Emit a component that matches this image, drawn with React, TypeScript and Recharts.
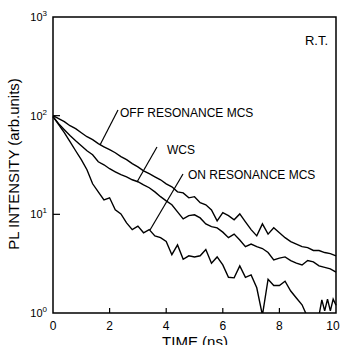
import { LineChart, Line, XAxis, YAxis, ReferenceArea } from "recharts";

// time axis (ns) shared by the OFF resonance and WCS traces
const times = [
    0, 0.2, 0.4, 0.6, 0.8, 1, 1.2, 1.4, 1.6, 1.8,
    2, 2.2, 2.4, 2.6, 2.8, 3, 3.2, 3.4, 3.6, 3.8,
    4, 4.2, 4.4, 4.6, 4.8, 5, 5.2, 5.4, 5.6, 5.8,
    6, 6.2, 6.4, 6.6, 6.8, 7, 7.2, 7.4, 7.6, 7.8,
    8, 8.2, 8.4, 8.6, 8.8, 9, 9.2, 9.4, 9.6, 9.8, 10,
];

const offResonance = [
    100, 93.2, 86.9, 79.1, 73.8, 67.2, 61.2, 57.1, 52.0, 48.4,
    45.2, 42.1, 38.4, 35.8, 32.6, 30.3, 27.6, 25.8, 24.0, 22.4,
    20.4, 19.0, 16.9, 16.5, 14.7, 15.1, 13.1, 12.5, 11.1, 8.6,
    10.4, 9.7, 8.8, 10.1, 8.4, 7.0, 6.05, 8.0, 6.3, 7.3,
    6.5, 5.8, 5.3, 5.0, 4.7, 4.6, 4.3, 4.3, 4.1, 4.0, 3.8,
];

const wcs = [
    97.7, 83.0, 72.0, 62.8, 55.6, 49.5, 44.1, 40.2, 34.1, 31.8,
    29.0, 27.0, 25.2, 24.0, 22.4, 21.4, 19.9, 18.6, 16.9, 15.1,
    13.7, 12.5, 10.6, 9.0, 9.7, 9.9, 9.2, 8.0, 7.5, 7.3,
    6.6, 5.8, 6.3, 5.5, 4.7, 5.0, 4.7, 4.5, 4.1, 3.45,
    3.6, 3.7, 3.4, 3.2, 3.07, 3.4, 3.3, 3.0, 2.9, 2.8, 2.6,
];

// the on resonance trace is noisier at the tail, so it gets its own times
const onTimes = [
    0, 0.2, 0.4, 0.6, 0.8, 1, 1.2, 1.4, 1.6, 1.8,
    2, 2.2, 2.4, 2.6, 2.8, 3, 3.2, 3.4, 3.6, 3.8,
    4, 4.2, 4.4, 4.6, 4.8, 5, 5.2, 5.4, 5.6, 5.8,
    6, 6.2, 6.4, 6.6, 6.8, 7, 7.2, 7.4, 7.6, 7.8,
    8, 8.2, 8.4, 8.6, 8.8, 9, 9.2, 9.4, 9.5, 9.6, 9.7, 9.8, 9.9, 10,
];

const onResonance = [
    97.7, 81, 67.2, 54.5, 44.1, 35.8, 28.3, 20.4, 16.9, 14.0,
    14.7, 11.1, 10.1, 8.2, 7.0, 7.6, 6.5, 7.0, 6.05, 5.8,
    5.3, 3.9, 4.9, 3.5, 3.8, 3.7, 3.8, 4.4, 3.2, 3.7,
    3.07, 2.3, 2.27, 3.0, 2.3, 2.43, 1.8, 0.95, 2.2, 1.9,
    1.9, 2.1, 1.67, 1.42, 1.21, 0.9, 0.9, 0.95, 1.36, 1.05, 1.38, 1.05, 1.38, 1.2,
];

const xTicks = [0, 2, 4, 6, 8, 10];
const yTicks = [1, 10, 100, 1000];
const yExponents = ["0", "1", "2", "3"];

const offData = times.map((t, i) => ({ t, v: offResonance[i] }));
const wcsData = times.map((t, i) => ({ t, v: wcs[i] }));
const onData = onTimes.map((t, i) => ({ t, v: onResonance[i] }));

function XTick(props: any) {
    const { x, y, payload } = props;
    const inner = payload.value !== 0 && payload.value !== 10;
    return (
        <g>
            {inner && (
                <line x1={x} x2={x} y1={y} y2={y - 5} stroke="#000" strokeWidth={1.2} />
            )}
            <text x={x} y={y + 17} textAnchor="middle" fontSize={12} fill="#000">
                {payload.value}
            </text>
        </g>
    );
}

function YTick(props: any) {
    const { x, y, payload, index } = props;
    const inner = payload.value === 10 || payload.value === 100;
    return (
        <g>
            {inner && (
                <line x1={x} x2={x + 7} y1={y} y2={y} stroke="#000" strokeWidth={1.2} />
            )}
            <text x={x - 6} y={y + 4} textAnchor="end" fontSize={11} fill="#000">
                10
                <tspan dy={-5} fontSize={8}>
                    {yExponents[index]}
                </tspan>
            </text>
        </g>
    );
}

export default function App() {
    return (
        <div
            style={{
                position: "absolute",
                left: 0,
                top: 0,
                width: 341,
                height: 345,
                background: "#fff",
                fontFamily: "'Liberation Sans', Arial, sans-serif",
            }}
        >
            <LineChart
                width={341}
                height={345}
                margin={{ top: 17, right: 5, bottom: 0, left: 0 }}
            >
                <XAxis
                    dataKey="t"
                    type="number"
                    domain={[0, 10]}
                    ticks={xTicks}
                    height={32}
                    axisLine={false}
                    tickLine={false}
                    tickSize={0}
                    tickMargin={0}
                    tick={<XTick />}
                    allowDuplicatedCategory={false}
                />
                <YAxis
                    type="number"
                    scale="log"
                    domain={[1, 1000]}
                    allowDataOverflow
                    ticks={yTicks}
                    width={53}
                    axisLine={false}
                    tickLine={false}
                    tickSize={0}
                    tickMargin={0}
                    tick={<YTick />}
                />
                <ReferenceArea
                    x1={0}
                    x2={10}
                    y1={1}
                    y2={1000}
                    fill="none"
                    stroke="#000"
                    strokeWidth={1.5}
                />
                <Line
                    data={offData}
                    dataKey="v"
                    type="linear"
                    stroke="#000"
                    strokeWidth={1.4}
                    dot={false}
                    isAnimationActive={false}
                />
                <Line
                    data={wcsData}
                    dataKey="v"
                    type="linear"
                    stroke="#000"
                    strokeWidth={1.4}
                    dot={false}
                    isAnimationActive={false}
                />
                <Line
                    data={onData}
                    dataKey="v"
                    type="linear"
                    stroke="#000"
                    strokeWidth={1.4}
                    dot={false}
                    isAnimationActive={false}
                />
            </LineChart>
            <svg
                width={341}
                height={345}
                style={{ position: "absolute", left: 0, top: 0, pointerEvents: "none" }}
            >
                <g fill="#000" fontSize={12}>
                    <text x={120} y={117}>OFF RESONANCE MCS</text>
                    <text x={167} y={154}>WCS</text>
                    <text x={188} y={179}>ON RESONANCE MCS</text>
                    <text x={328} y={45} fontSize={13} textAnchor="end">R.T.</text>
                </g>
                <g stroke="#000" strokeWidth={1.2}>
                    <line x1={118} y1={110} x2={100} y2={145} />
                    <line x1={157} y1={147} x2={137} y2={182} />
                    <line x1={183} y1={174} x2={150} y2={230} />
                </g>
                <text
                    transform="translate(19,164) rotate(-90)"
                    textAnchor="middle"
                    fontSize={15}
                    fill="#000"
                >
                    PL INTENSITY (arb.units)
                </text>
                <text x={195} y={347} textAnchor="middle" fontSize={15} fill="#000">
                    TIME (ns)
                </text>
            </svg>
        </div>
    );
}
